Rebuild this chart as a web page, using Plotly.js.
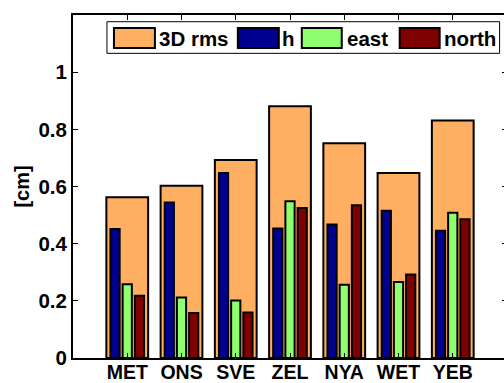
<!DOCTYPE html>
<html>
<head>
<meta charset="utf-8">
<script src="https://cdn.plot.ly/plotly-3.0.1.min.js"></script>
<style>
html,body{margin:0;padding:0;overflow:hidden;background:#fff;width:504px;height:383px;}
#chart{width:510px;height:383px;}
</style>
</head>
<body>
<div id="chart"></div>
<script>
const categories = ['MET','ONS','SVE','ZEL','NYA','WET','YEB'];
const rms3d     = [0.562, 0.603, 0.693, 0.881, 0.751, 0.647, 0.831];
const hVals     = [0.451, 0.544, 0.647, 0.453, 0.467, 0.515, 0.445];
const eastVals  = [0.258, 0.212, 0.201, 0.548, 0.256, 0.266, 0.508];
const northVals = [0.218, 0.157, 0.159, 0.525, 0.534, 0.292, 0.485];
const seriesNames = ['3D rms', 'h', 'east', 'north'];
const seriesColors = ['#FFAF62', '#00008F', '#8FFF6F', '#7F0000'];
const yTickVals = [0, 0.2, 0.4, 0.6, 0.8, 1];
const yTickText = ['0', '0.2', '0.4', '0.6', '0.8', '1'];

const FONT = 'Liberation Sans, Arial, Helvetica, sans-serif';
const W = 510, H = 383;
const M = {l: 73, r: 2.6, t: 15, b: 25.3};
const plotW = W - M.l - M.r, plotH = H - M.t - M.b;
const px2x = p => (p - M.l) / plotW;
const py2y = p => (H - M.b - p) / plotH;

const outline = {color: '#000', width: 2};
const bar = (name, vals, color, width, offset) => ({
  type: 'bar', name: name, x: categories, y: vals,
  width: width, offset: offset,
  marker: {color: color, line: outline},
  showlegend: false, hoverinfo: 'skip'
});

const traces = [
  bar(seriesNames[0], rms3d, seriesColors[0], 0.77, -0.385),
  bar(seriesNames[1], hVals, seriesColors[1], 0.17, -0.225 - 0.085),
  bar(seriesNames[2], eastVals, seriesColors[2], 0.17, -0.085),
  bar(seriesNames[3], northVals, seriesColors[3], 0.17, 0.225 - 0.085)
];

// legend drawn as a framed box with large swatches (MATLAB style)
const legendBox = {x0: 107, x1: 500, y0: 21.7, y1: 53.3};
const swatches = [[114, 155], [238, 279], [302, 342], [400, 440]];
const labelX = [157.5, 280.5, 345.5, 442.5];
const shapes = [{
  type: 'rect', xref: 'paper', yref: 'paper',
  x0: px2x(legendBox.x0), x1: px2x(legendBox.x1),
  y0: py2y(legendBox.y1), y1: py2y(legendBox.y0),
  fillcolor: '#fff', line: {color: '#000', width: 1}
}];
const annotations = [];
seriesNames.forEach((n, i) => {
  shapes.push({
    type: 'rect', xref: 'paper', yref: 'paper',
    x0: px2x(swatches[i][0]), x1: px2x(swatches[i][1]),
    y0: py2y(48), y1: py2y(28),
    fillcolor: seriesColors[i], line: {color: '#000', width: 2}
  });
  annotations.push({
    xref: 'paper', yref: 'paper', x: px2x(labelX[i]), y: py2y(38.5),
    xanchor: 'left', yanchor: 'middle', showarrow: false, text: '<b>' + n + '</b>',
    font: {family: FONT, size: 20.5, color: '#000'}
  });
});

const layout = {
  width: W, height: H,
  margin: M,
  paper_bgcolor: '#fff', plot_bgcolor: '#fff',
  barmode: 'overlay',
  font: {family: FONT, size: 20, color: '#000', weight: 'bold'},
  xaxis: {
    type: 'category', range: [-1, 7],
    showline: true, linecolor: '#000', linewidth: 2, mirror: 'ticks',
    ticks: 'inside', ticklen: 5, tickwidth: 1, tickcolor: '#000',
    showgrid: false, zeroline: false,
    tickfont: {family: FONT, size: 19.5, color: '#000', weight: 'bold'},
    ticklabelstandoff: -4
  },
  yaxis: {
    range: [0, 1.2],
    tickvals: yTickVals, ticktext: yTickText,
    showline: true, linecolor: '#000', linewidth: 2, mirror: 'ticks',
    ticks: 'inside', ticklen: 5, tickwidth: 1, tickcolor: '#000',
    showgrid: false, zeroline: false,
    tickfont: {family: FONT, size: 20.5, color: '#000', weight: 'bold'},
    title: {text: '[cm]', font: {family: FONT, size: 20, color: '#000', weight: 'bold'}, standoff: 3}
  },
  shapes: shapes,
  annotations: annotations
};

Plotly.newPlot('chart', traces, layout, {displayModeBar: false, staticPlot: true});
</script>
</body>
</html>
